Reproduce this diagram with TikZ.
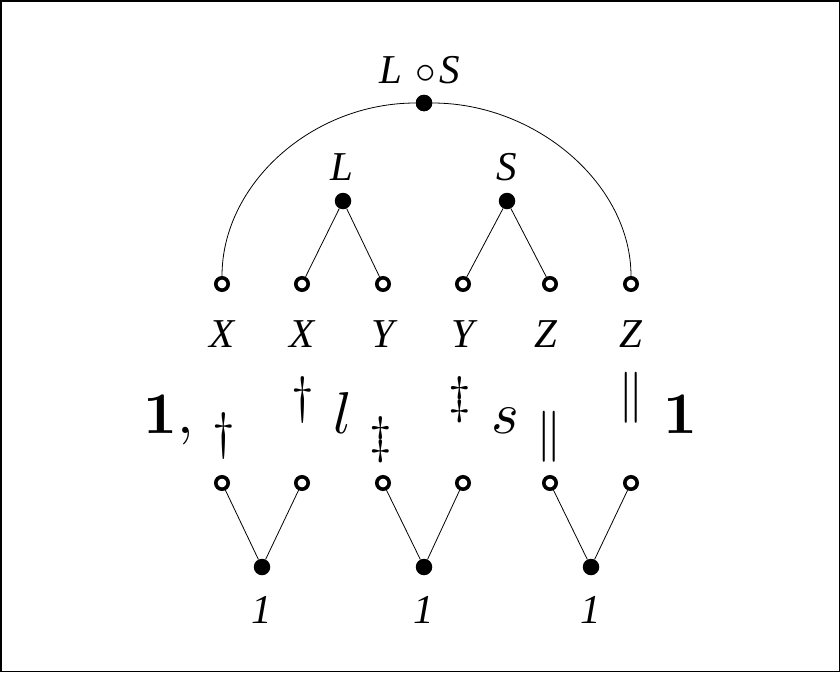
\documentclass[tikz,border=0pt]{standalone}
\usepackage[no-math]{fontspec}
\setmainfont{Liberation Serif}
\begin{document}
\begin{tikzpicture}[x=1pt,y=-1pt,
  open/.style={circle,draw,line width=3.6pt,minimum size=12.4pt,inner sep=0pt,fill=white},
  dot/.style={circle,fill,minimum size=16.5pt,inner sep=0pt},
  lbl/.style={font=\fontsize{10}{12}\selectfont\itshape,scale=4.1,anchor=base,inner sep=0pt},
  sym/.style={font=\fontsize{10}{12}\selectfont,scale=5.1,inner sep=0pt},
  big/.style={font=\fontsize{10}{12}\selectfont,scale=5.9,anchor=base,inner sep=0pt},
  edge/.style={line width=0.8pt}]
\useasboundingbox (0,0) rectangle (840,672);
\draw[line width=1.5pt] (0.75,0.75) rectangle (839.25,671.25);

% top tree
\node[dot] (top) at (424,103) {};
\node[dot] (L) at (343,201) {};
\node[dot] (S) at (507,201) {};
\foreach \i/\x in {1/222,2/302,3/383,4/463,5/550,6/631}{
  \node[open] (u\i) at (\x,284) {};
  \node[open] (d\i) at (\x,483) {};
}
\node[dot] (b1) at (262,567) {};
\node[dot] (b2) at (424,567) {};
\node[dot] (b3) at (591,567) {};

\draw[edge] (u1) .. controls (222,184) and (312,103) .. (top);
\draw[edge] (top) .. controls (536,103) and (631,184) .. (u6);
\draw[edge] (L) -- (u2);
\draw[edge] (L) -- (u3);
\draw[edge] (S) -- (u4);
\draw[edge] (S) -- (u5);
\draw[edge] (b1) -- (d1);
\draw[edge] (b1) -- (d2);
\draw[edge] (b2) -- (d3);
\draw[edge] (b2) -- (d4);
\draw[edge] (b3) -- (d5);
\draw[edge] (b3) -- (d6);
\node[dot] at (top) {};

% labels
\node[lbl] (tl) at (420,83) {L\hspace{3pt}$\circ$\hspace{1pt}S};
\node[lbl] (Ll) at (342,180) {L};
\node[lbl] (Sl) at (507,180) {S};
\node[lbl] (lx1) at (222,347) {X};
\node[lbl] (lx2) at (302,347) {X};
\node[lbl] (ly1) at (383,347) {Y};
\node[lbl] (ly2) at (463,347) {Y};
\node[lbl] (lz1) at (546,347) {Z};
\node[lbl] (lz2) at (631,347) {Z};
\node[lbl] (o1) at (262,623) {1};
\node[lbl] (o2) at (424,623) {1};
\node[lbl] (o3) at (591,623) {1};

% middle formula pieces
\node[big] (m1) at (169,433) {$\mathbf{1},$};
\node[sym] (m2) at (224,435.5) {$\dagger$};
\node[sym] (m3) at (303,399.5) {$\dagger$};
\node[big] (m4) at (343,433) {$l$};
\node[sym] (m5) at (381,440) {$\ddagger$};
\node[sym] (m6) at (460,400) {$\ddagger$};
\node[big] (m7) at (505,433) {$s$};
\node[sym] (m8) at (549,437) {$\|$};
\node[sym] (m9) at (631,398) {$\|$};
\node[big] (m10) at (680,433) {$\mathbf{1}$};
\end{tikzpicture}
\end{document}
